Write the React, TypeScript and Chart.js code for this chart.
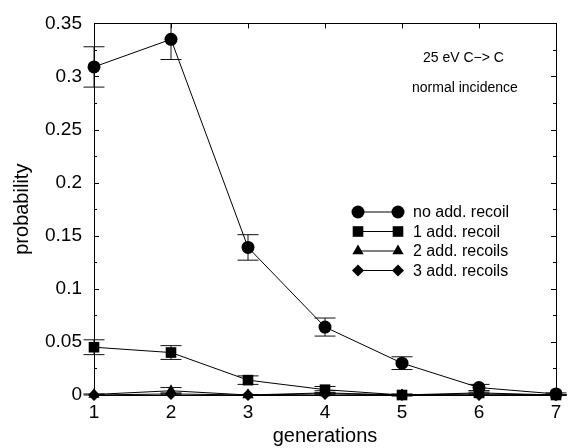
import React, { useEffect, useRef } from "react";
import { Chart, registerables } from "chart.js";

Chart.register(...registerables);

// ---- data ----
const generations = [1, 2, 3, 4, 5, 6, 7];
const xTickLabels = ["1", "2", "3", "4", "5", "6", "7"];
const yTickValues = [0, 0.05, 0.1, 0.15, 0.2, 0.25, 0.3, 0.35];
const yTickLabels = ["0", "0.05", "0.1", "0.15", "0.2", "0.25", "0.3", "0.35"];

const seriesNames = ["no add. recoil", "1 add. recoil", "2 add. recoils", "3 add. recoils"];

const noAddRecoil = [0.309, 0.335, 0.139, 0.064, 0.030, 0.007, 0.001];
const noAddRecoilErr = [0.019, 0.019, 0.012, 0.0085, 0.006, 0.003, 0.001];
const oneAddRecoil = [0.045, 0.040, 0.014, 0.005, 0.000, 0.002, 0.000];
const oneAddRecoilErr = [0.007, 0.0065, 0.004, 0.003, 0.001, 0.002, 0.0005];
const twoAddRecoils = [0.0005, 0.004, 0.000, 0.002, 0.000, 0.001, 0.000];
const twoAddRecoilsErr = [0.0005, 0.003, 0.0005, 0.002, 0.0005, 0.001, 0.0003];
const threeAddRecoils = [0.000, 0.001, 0.000, 0.001, 0.000, 0.000, 0.000];
const threeAddRecoilsErr = [0.0, 0.001, 0.0, 0.001, 0.0, 0.0, 0.0];

const annotationLines = ["25 eV C\u2212> C", "normal incidence"];

const FONT = "'Liberation Sans', Arial, Helvetica, sans-serif";

const seriesValues = [noAddRecoil, oneAddRecoil, twoAddRecoils, threeAddRecoils];
const seriesErrors = [noAddRecoilErr, oneAddRecoilErr, twoAddRecoilsErr, threeAddRecoilsErr];
const seriesStyles = ["circle", "rect", "triangle", "rectRot"];
const seriesRadius = [6.5, 7.5, 6.5, 6];

function drawMarker(ctx: CanvasRenderingContext2D, style: string, x: number, y: number, r: number) {
  ctx.beginPath();
  if (style === "circle") {
    ctx.arc(x, y, r, 0, Math.PI * 2);
  } else if (style === "rect") {
    const s = Math.SQRT1_2 * r;
    ctx.rect(x - s, y - s, 2 * s, 2 * s);
  } else if (style === "triangle") {
    let a = 0;
    ctx.moveTo(x + Math.sin(a) * r, y - Math.cos(a) * r);
    a += (2 * Math.PI) / 3;
    ctx.lineTo(x + Math.sin(a) * r, y - Math.cos(a) * r);
    a += (2 * Math.PI) / 3;
    ctx.lineTo(x + Math.sin(a) * r, y - Math.cos(a) * r);
    ctx.closePath();
  } else {
    ctx.moveTo(x, y - r);
    ctx.lineTo(x + r, y);
    ctx.lineTo(x, y + r);
    ctx.lineTo(x - r, y);
    ctx.closePath();
  }
  ctx.fillStyle = "#000";
  ctx.fill();
}

const decorPlugin = {
  id: "decor",
  beforeDatasetsDraw(chart: any) {
    const { ctx, chartArea, scales } = chart;
    const xs = scales.x;
    const ys = scales.y;
    ctx.save();
    ctx.strokeStyle = "#111";
    ctx.lineWidth = 1;
    const cap = 10.5;
    seriesValues.forEach((vals, i) => {
      vals.forEach((v, j) => {
        const e = seriesErrors[i][j];
        if (!e) return;
        const x = xs.getPixelForValue(generations[j]);
        let yTop = ys.getPixelForValue(v + e);
        const yBot = ys.getPixelForValue(v - e);
        const topClipped = yTop < chartArea.top;
        if (topClipped) yTop = chartArea.top;
        ctx.beginPath();
        ctx.moveTo(x, yTop);
        ctx.lineTo(x, yBot);
        if (!topClipped) {
          ctx.moveTo(x - cap, yTop);
          ctx.lineTo(x + cap, yTop);
        }
        ctx.moveTo(x - cap, yBot);
        ctx.lineTo(x + cap, yBot);
        ctx.stroke();
      });
    });
    ctx.restore();
  },
  afterDraw(chart: any) {
    const { ctx, chartArea, scales } = chart;
    const xs = scales.x;
    const ys = scales.y;
    const { left, right, top, bottom } = chartArea;
    ctx.save();
    ctx.strokeStyle = "#000";
    ctx.lineWidth = 1;
    ctx.strokeRect(Math.round(left) + 0.5, Math.round(top) + 0.5, Math.round(right - left), Math.round(bottom - top));

    // ticks
    ctx.beginPath();
    const major = 5;
    const minor = 3;
    generations.forEach((g) => {
      const x = Math.round(xs.getPixelForValue(g)) + 0.5;
      ctx.moveTo(x, top);
      ctx.lineTo(x, top + major);
      ctx.moveTo(x, bottom);
      ctx.lineTo(x, bottom - major);
    });
    yTickValues.forEach((v, k) => {
      const y = Math.round(ys.getPixelForValue(v)) + 0.5;
      ctx.moveTo(left, y);
      ctx.lineTo(left + major, y);
      ctx.moveTo(right, y);
      ctx.lineTo(right - major, y);
      if (k < yTickValues.length - 1) {
        const ym = Math.round(ys.getPixelForValue((v + yTickValues[k + 1]) / 2)) + 0.5;
        ctx.moveTo(left, ym);
        ctx.lineTo(left + minor, ym);
        ctx.moveTo(right, ym);
        ctx.lineTo(right - minor, ym);
      }
    });
    ctx.stroke();

    // legend
    const lx1 = 358;
    const lx2 = 398;
    const ly0 = 212;
    const lstep = 19.5;
    ctx.font = `16px ${FONT}`;
    ctx.textBaseline = "middle";
    ctx.textAlign = "left";
    seriesNames.forEach((name, i) => {
      const y = ly0 + i * lstep;
      ctx.beginPath();
      ctx.strokeStyle = "#000";
      ctx.moveTo(lx1, y);
      ctx.lineTo(lx2, y);
      ctx.stroke();
      drawMarker(ctx, seriesStyles[i], lx1, y, seriesRadius[i]);
      drawMarker(ctx, seriesStyles[i], lx2, y, seriesRadius[i]);
      ctx.fillStyle = "#000";
      ctx.fillText(name, 413, y + 1);
    });

    // annotation
    ctx.font = `14px ${FONT}`;
    ctx.fillText(annotationLines[0], 423, 58);
    ctx.fillText(annotationLines[1], 412, 88);
    ctx.restore();
  },
};

export default function App() {
  const canvasRef = useRef<HTMLCanvasElement | null>(null);

  useEffect(() => {
    document.body.style.margin = "0";
    const canvas = canvasRef.current;
    if (!canvas) return;
    const chart = new Chart(canvas, {
      type: "line",
      data: {
        datasets: seriesValues.map((vals, i) => ({
          label: seriesNames[i],
          data: vals.map((v, j) => ({ x: generations[j], y: v })),
          borderColor: "#000",
          backgroundColor: "#000",
          borderWidth: 1,
          pointStyle: seriesStyles[i] as any,
          pointRadius: seriesRadius[i],
          pointBorderWidth: 0,
          pointBackgroundColor: "#000",
          tension: 0,
          clip: false as any,
        })),
      },
      options: {
        animation: false,
        responsive: false,
        maintainAspectRatio: false,
        layout: { padding: { left: 0, top: 16, right: 12, bottom: 0 } },
        plugins: {
          legend: { display: false },
          tooltip: { enabled: false },
        },
        scales: {
          x: {
            type: "linear",
            min: 1,
            max: 7,
            grid: { display: false, drawTicks: false },
            border: { display: false },
            afterBuildTicks: (scale: any) => {
              scale.ticks = generations.map((g) => ({ value: g }));
            },
            afterFit: (scale: any) => {
              scale.height = 53;
            },
            ticks: {
              color: "#000",
              font: { family: FONT, size: 19 },
              padding: 6,
              maxRotation: 0,
              autoSkip: false,
              callback: (value: any) => {
                const idx = generations.indexOf(Number(value));
                return idx >= 0 ? xTickLabels[idx] : "";
              },
            },
            title: {
              display: true,
              text: "generations",
              color: "#000",
              font: { family: FONT, size: 20 },
              padding: { top: 0, bottom: 0 },
            },
          },
          y: {
            type: "linear",
            min: 0,
            max: 0.35,
            grid: { display: false, drawTicks: false },
            border: { display: false },
            afterBuildTicks: (scale: any) => {
              scale.ticks = yTickValues.map((v) => ({ value: v }));
            },
            afterFit: (scale: any) => {
              scale.width = 94;
            },
            ticks: {
              color: "#000",
              font: { family: FONT, size: 19 },
              padding: 12,
              autoSkip: false,
              callback: (value: any) => {
                const idx = yTickValues.findIndex((v) => Math.abs(v - Number(value)) < 1e-9);
                return idx >= 0 ? yTickLabels[idx] : "";
              },
            },
            title: {
              display: true,
              text: "probability",
              color: "#000",
              font: { family: FONT, size: 20 },
              padding: { top: 10, bottom: 0 },
            },
          },
        },
      },
      plugins: [decorPlugin],
    });
    return () => chart.destroy();
  }, []);

  return (
    <div style={{ position: "absolute", left: 0, top: 0, width: 568, height: 448, background: "#fff" }}>
      <canvas ref={canvasRef} width={568} height={448} style={{ display: "block" }} />
    </div>
  );
}
